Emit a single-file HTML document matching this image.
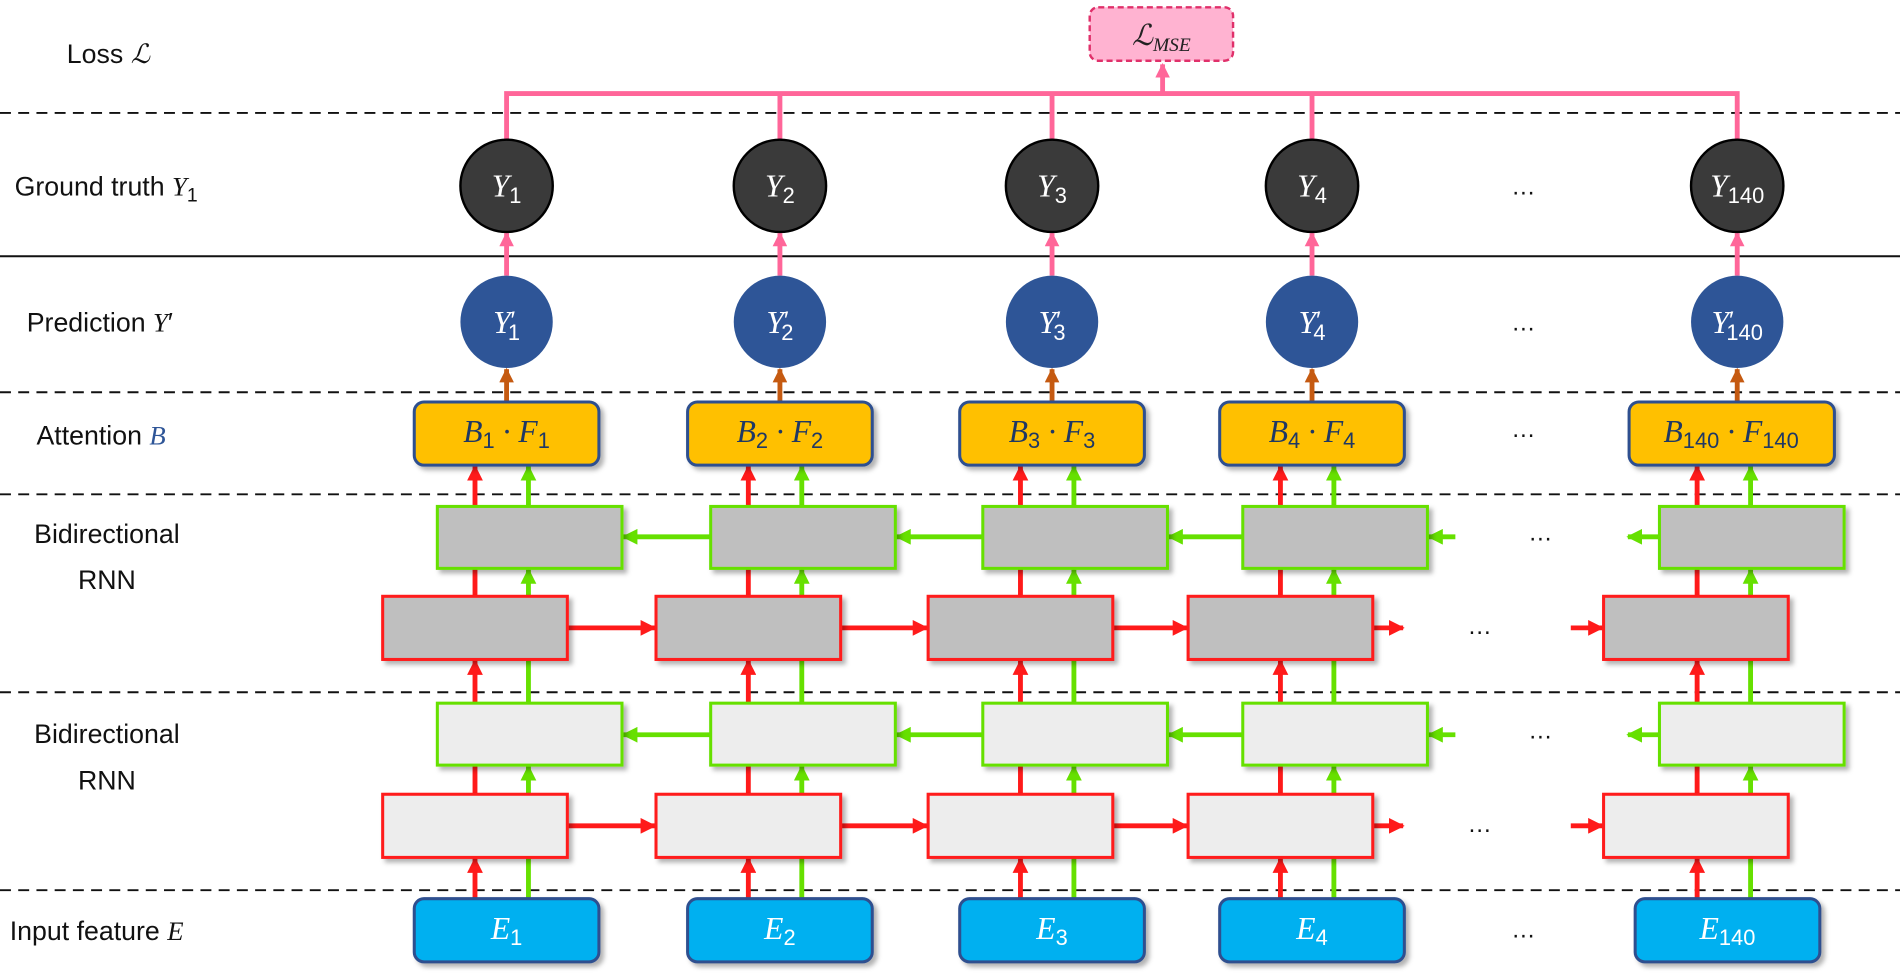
<!DOCTYPE html>
<html><head><meta charset="utf-8"><style>
html,body{margin:0;padding:0;background:#fff;}
svg{display:block;}
.lbl{font-family:"Liberation Sans",sans-serif;font-size:22px;fill:#111;}
.m{font-family:"Liberation Serif",serif;font-style:italic;}
.s{font-family:"Liberation Sans",sans-serif;font-style:normal;}
</style></head><body>
<svg width="1900" height="974" viewBox="0 0 1564 802" preserveAspectRatio="none" xmlns="http://www.w3.org/2000/svg">
<defs>
<marker id="ar" viewBox="0 0 10 10" refX="9" refY="5" markerUnits="userSpaceOnUse" markerWidth="13" markerHeight="13" orient="auto"><path d="M0,0 L10,5 L0,10 z" fill="#ff1a1a"/></marker>
<marker id="ag" viewBox="0 0 10 10" refX="9" refY="5" markerUnits="userSpaceOnUse" markerWidth="13" markerHeight="13" orient="auto"><path d="M0,0 L10,5 L0,10 z" fill="#66e000"/></marker>
<marker id="ap" viewBox="0 0 10 10" refX="9" refY="5" markerUnits="userSpaceOnUse" markerWidth="12" markerHeight="12" orient="auto"><path d="M0,0 L10,5 L0,10 z" fill="#ff6699"/></marker>
<marker id="ab" viewBox="0 0 10 10" refX="9" refY="5" markerUnits="userSpaceOnUse" markerWidth="12" markerHeight="12" orient="auto"><path d="M0,0 L10,5 L0,10 z" fill="#c55a11"/></marker>
<filter id="sh" x="-10%" y="-10%" width="130%" height="140%"><feDropShadow dx="3" dy="3" stdDeviation="2" flood-color="#000" flood-opacity="0.3"/></filter>
</defs>

<!-- separator lines -->
<g stroke="#111" stroke-width="1.6" stroke-dasharray="9,6">
<line x1="0" y1="93" x2="1564" y2="93"/>
<line x1="0" y1="323" x2="1564" y2="323"/>
<line x1="0" y1="407" x2="1564" y2="407"/>
<line x1="0" y1="570" x2="1564" y2="570"/>
<line x1="0" y1="733" x2="1564" y2="733"/>
</g>
<line x1="0" y1="211" x2="1564" y2="211" stroke="#111" stroke-width="1.6"/>

<!-- left labels -->
<text class="lbl" x="55" y="52">Loss <tspan class="m">ℒ</tspan></text>
<text class="lbl" x="12" y="161">Ground truth <tspan class="m">Y</tspan><tspan class="s" font-size="16" dy="5">1</tspan></text>
<text class="lbl" x="22" y="273">Prediction <tspan class="m">Y</tspan><tspan class="s">′</tspan></text>
<text class="lbl" x="30" y="366">Attention <tspan class="m" fill="#2e5597">B</tspan></text>
<text class="lbl" x="88" y="447" text-anchor="middle">Bidirectional</text>
<text class="lbl" x="88" y="485" text-anchor="middle">RNN</text>
<text class="lbl" x="88" y="612" text-anchor="middle">Bidirectional</text>
<text class="lbl" x="88" y="650" text-anchor="middle">RNN</text>
<text class="lbl" x="8" y="774">Input feature <tspan class="m">E</tspan></text>

<!-- pink loss connectors -->
<g stroke="#ff6699" stroke-width="4" fill="none">
<polyline points="417,115 417,77 1430,77 1430,115"/>
<line x1="642" y1="77" x2="642" y2="115"/>
<line x1="866" y1="77" x2="866" y2="115"/>
<line x1="1080" y1="77" x2="1080" y2="115"/>
<line x1="957" y1="77" x2="957" y2="53" marker-end="url(#ap)"/>
<line x1="417" y1="227" x2="417" y2="192" marker-end="url(#ap)"/>
<line x1="642" y1="227" x2="642" y2="192" marker-end="url(#ap)"/>
<line x1="866" y1="227" x2="866" y2="192" marker-end="url(#ap)"/>
<line x1="1080" y1="227" x2="1080" y2="192" marker-end="url(#ap)"/>
<line x1="1430" y1="227" x2="1430" y2="192" marker-end="url(#ap)"/>
</g>
<rect x="897" y="6" width="118" height="44" rx="7" fill="#ffb3d1" stroke="#e0306a" stroke-width="2" stroke-dasharray="5,3"/>
<text x="956" y="37" text-anchor="middle" font-size="24" fill="#222" class="m">ℒ<tspan font-size="16" dy="5">MSE</tspan></text>

<!-- brown arrows -->
<g stroke="#c55a11" stroke-width="4">
<line x1="417" y1="331" x2="417" y2="304" marker-end="url(#ab)"/>
<line x1="642" y1="331" x2="642" y2="304" marker-end="url(#ab)"/>
<line x1="866" y1="331" x2="866" y2="304" marker-end="url(#ab)"/>
<line x1="1080" y1="331" x2="1080" y2="304" marker-end="url(#ab)"/>
<line x1="1430" y1="331" x2="1430" y2="304" marker-end="url(#ab)"/>
</g>

<!-- circles -->
<g stroke="#000" stroke-width="2" fill="#3a3a3a">
<circle cx="417" cy="153" r="38"/><circle cx="642" cy="153" r="38"/><circle cx="866" cy="153" r="38"/><circle cx="1080" cy="153" r="38"/><circle cx="1430" cy="153" r="38"/>
</g>
<g fill="#2e5597">
<circle cx="417" cy="265" r="38"/><circle cx="642" cy="265" r="38"/><circle cx="866" cy="265" r="38"/><circle cx="1080" cy="265" r="38"/><circle cx="1430" cy="265" r="38"/>
</g>
<g fill="#fff" font-size="26" text-anchor="middle" class="m">
<text x="417" y="162">Y<tspan class="s" font-size="18" dy="5">1</tspan></text>
<text x="642" y="162">Y<tspan class="s" font-size="18" dy="5">2</tspan></text>
<text x="866" y="162">Y<tspan class="s" font-size="18" dy="5">3</tspan></text>
<text x="1080" y="162">Y<tspan class="s" font-size="18" dy="5">4</tspan></text>
<text x="1430" y="162">Y<tspan class="s" font-size="18" dy="5">140</tspan></text>
<text x="417" y="274">Y<tspan class="s" font-size="20" dy="-4">′</tspan><tspan class="s" font-size="18" dx="-6" dy="10">1</tspan></text>
<text x="642" y="274">Y<tspan class="s" font-size="20" dy="-4">′</tspan><tspan class="s" font-size="18" dx="-6" dy="10">2</tspan></text>
<text x="866" y="274">Y<tspan class="s" font-size="20" dy="-4">′</tspan><tspan class="s" font-size="18" dx="-6" dy="10">3</tspan></text>
<text x="1080" y="274">Y<tspan class="s" font-size="20" dy="-4">′</tspan><tspan class="s" font-size="18" dx="-6" dy="10">4</tspan></text>
<text x="1430" y="274">Y<tspan class="s" font-size="20" dy="-4">′</tspan><tspan class="s" font-size="18" dx="-6" dy="10">140</tspan></text>
</g>

<!-- vertical arrows (drawn before boxes) -->
<g stroke="#ff1a1a" stroke-width="4">
<line x1="391" y1="740" x2="391" y2="707" marker-end="url(#ar)"/><line x1="391" y1="654" x2="391" y2="544" marker-end="url(#ar)"/><line x1="391" y1="491" x2="391" y2="384" marker-end="url(#ar)"/>
<line x1="616" y1="740" x2="616" y2="707" marker-end="url(#ar)"/><line x1="616" y1="654" x2="616" y2="544" marker-end="url(#ar)"/><line x1="616" y1="491" x2="616" y2="384" marker-end="url(#ar)"/>
<line x1="840" y1="740" x2="840" y2="707" marker-end="url(#ar)"/><line x1="840" y1="654" x2="840" y2="544" marker-end="url(#ar)"/><line x1="840" y1="491" x2="840" y2="384" marker-end="url(#ar)"/>
<line x1="1054" y1="740" x2="1054" y2="707" marker-end="url(#ar)"/><line x1="1054" y1="654" x2="1054" y2="544" marker-end="url(#ar)"/><line x1="1054" y1="491" x2="1054" y2="384" marker-end="url(#ar)"/>
<line x1="1397" y1="740" x2="1397" y2="707" marker-end="url(#ar)"/><line x1="1397" y1="654" x2="1397" y2="544" marker-end="url(#ar)"/><line x1="1397" y1="491" x2="1397" y2="384" marker-end="url(#ar)"/>
</g>
<g stroke="#66e000" stroke-width="4">
<line x1="435" y1="740" x2="435" y2="631" marker-end="url(#ag)"/><line x1="435" y1="579" x2="435" y2="469" marker-end="url(#ag)"/><line x1="435" y1="417" x2="435" y2="384" marker-end="url(#ag)"/>
<line x1="660" y1="740" x2="660" y2="631" marker-end="url(#ag)"/><line x1="660" y1="579" x2="660" y2="469" marker-end="url(#ag)"/><line x1="660" y1="417" x2="660" y2="384" marker-end="url(#ag)"/>
<line x1="884" y1="740" x2="884" y2="631" marker-end="url(#ag)"/><line x1="884" y1="579" x2="884" y2="469" marker-end="url(#ag)"/><line x1="884" y1="417" x2="884" y2="384" marker-end="url(#ag)"/>
<line x1="1098" y1="740" x2="1098" y2="631" marker-end="url(#ag)"/><line x1="1098" y1="579" x2="1098" y2="469" marker-end="url(#ag)"/><line x1="1098" y1="417" x2="1098" y2="384" marker-end="url(#ag)"/>
<line x1="1441" y1="740" x2="1441" y2="631" marker-end="url(#ag)"/><line x1="1441" y1="579" x2="1441" y2="469" marker-end="url(#ag)"/><line x1="1441" y1="417" x2="1441" y2="384" marker-end="url(#ag)"/>
</g>

<!-- horizontal arrows -->
<g stroke="#66e000" stroke-width="4">
<line x1="585" y1="442" x2="513" y2="442" marker-end="url(#ag)"/><line x1="809" y1="442" x2="738" y2="442" marker-end="url(#ag)"/><line x1="1023" y1="442" x2="962" y2="442" marker-end="url(#ag)"/>
<line x1="1198" y1="442" x2="1176" y2="442" marker-end="url(#ag)"/><line x1="1365" y1="442" x2="1340" y2="442" marker-end="url(#ag)"/>
<line x1="585" y1="605" x2="513" y2="605" marker-end="url(#ag)"/><line x1="809" y1="605" x2="738" y2="605" marker-end="url(#ag)"/><line x1="1023" y1="605" x2="962" y2="605" marker-end="url(#ag)"/>
<line x1="1198" y1="605" x2="1176" y2="605" marker-end="url(#ag)"/><line x1="1365" y1="605" x2="1340" y2="605" marker-end="url(#ag)"/>
</g>
<g stroke="#ff1a1a" stroke-width="4">
<line x1="467" y1="517" x2="539" y2="517" marker-end="url(#ar)"/><line x1="692" y1="517" x2="763" y2="517" marker-end="url(#ar)"/><line x1="916" y1="517" x2="977" y2="517" marker-end="url(#ar)"/>
<line x1="1130" y1="517" x2="1155" y2="517" marker-end="url(#ar)"/><line x1="1293" y1="517" x2="1319" y2="517" marker-end="url(#ar)"/>
<line x1="467" y1="680" x2="539" y2="680" marker-end="url(#ar)"/><line x1="692" y1="680" x2="763" y2="680" marker-end="url(#ar)"/><line x1="916" y1="680" x2="977" y2="680" marker-end="url(#ar)"/>
<line x1="1130" y1="680" x2="1155" y2="680" marker-end="url(#ar)"/><line x1="1293" y1="680" x2="1319" y2="680" marker-end="url(#ar)"/>
</g>

<!-- RNN boxes -->
<g filter="url(#sh)" stroke-width="2.5">
<g fill="#bfbfbf" stroke="#66e000">
<rect x="360" y="417" width="152" height="51"/><rect x="585" y="417" width="152" height="51"/><rect x="809" y="417" width="152" height="51"/><rect x="1023" y="417" width="152" height="51"/><rect x="1366" y="417" width="152" height="51"/>
</g>
<g fill="#bfbfbf" stroke="#ff1a1a">
<rect x="315" y="491" width="152" height="52"/><rect x="540" y="491" width="152" height="52"/><rect x="764" y="491" width="152" height="52"/><rect x="978" y="491" width="152" height="52"/><rect x="1320" y="491" width="152" height="52"/>
</g>
<g fill="#ededed" stroke="#66e000">
<rect x="360" y="579" width="152" height="51"/><rect x="585" y="579" width="152" height="51"/><rect x="809" y="579" width="152" height="51"/><rect x="1023" y="579" width="152" height="51"/><rect x="1366" y="579" width="152" height="51"/>
</g>
<g fill="#ededed" stroke="#ff1a1a">
<rect x="315" y="654" width="152" height="52"/><rect x="540" y="654" width="152" height="52"/><rect x="764" y="654" width="152" height="52"/><rect x="978" y="654" width="152" height="52"/><rect x="1320" y="654" width="152" height="52"/>
</g>
<!-- attention -->
<g fill="#ffc000" stroke="#2e4f8f">
<rect x="341" y="331" width="152" height="52" rx="8"/><rect x="566" y="331" width="152" height="52" rx="8"/><rect x="790" y="331" width="152" height="52" rx="8"/><rect x="1004" y="331" width="152" height="52" rx="8"/><rect x="1341" y="331" width="169" height="52" rx="8"/>
</g>
<!-- inputs -->
<g fill="#00b0f0" stroke="#2e4f8f">
<rect x="341" y="740" width="152" height="52" rx="8"/><rect x="566" y="740" width="152" height="52" rx="8"/><rect x="790" y="740" width="152" height="52" rx="8"/><rect x="1004" y="740" width="152" height="52" rx="8"/><rect x="1346" y="740" width="152" height="52" rx="8"/>
</g>
</g>

<g fill="#1f3864" font-size="26" text-anchor="middle" class="m">
<text x="417" y="364">B<tspan class="s" font-size="18" dy="5">1</tspan><tspan dy="-5"> · F</tspan><tspan class="s" font-size="18" dy="5">1</tspan></text>
<text x="642" y="364">B<tspan class="s" font-size="18" dy="5">2</tspan><tspan dy="-5"> · F</tspan><tspan class="s" font-size="18" dy="5">2</tspan></text>
<text x="866" y="364">B<tspan class="s" font-size="18" dy="5">3</tspan><tspan dy="-5"> · F</tspan><tspan class="s" font-size="18" dy="5">3</tspan></text>
<text x="1080" y="364">B<tspan class="s" font-size="18" dy="5">4</tspan><tspan dy="-5"> · F</tspan><tspan class="s" font-size="18" dy="5">4</tspan></text>
<text x="1425" y="364">B<tspan class="s" font-size="18" dy="5">140</tspan><tspan dy="-5"> · F</tspan><tspan class="s" font-size="18" dy="5">140</tspan></text>
</g>
<g fill="#fff" font-size="26" text-anchor="middle" class="m">
<text x="417" y="773">E<tspan class="s" font-size="18" dy="5">1</tspan></text>
<text x="642" y="773">E<tspan class="s" font-size="18" dy="5">2</tspan></text>
<text x="866" y="773">E<tspan class="s" font-size="18" dy="5">3</tspan></text>
<text x="1080" y="773">E<tspan class="s" font-size="18" dy="5">4</tspan></text>
<text x="1422" y="773">E<tspan class="s" font-size="18" dy="5">140</tspan></text>
</g>

<!-- ellipses -->
<g font-family="Liberation Sans, sans-serif" font-size="20" fill="#111" text-anchor="middle">
<text x="1254" y="160">…</text>
<text x="1254" y="272">…</text>
<text x="1254" y="360">…</text>
<text x="1268" y="445">…</text>
<text x="1218" y="522">…</text>
<text x="1268" y="608">…</text>
<text x="1218" y="685">…</text>
<text x="1254" y="772">…</text>
</g>
</svg>
</body></html>
